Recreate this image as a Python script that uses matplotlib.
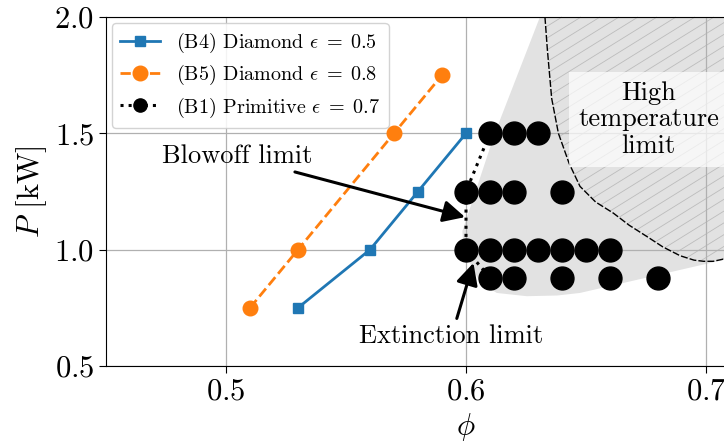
import matplotlib
matplotlib.use("Agg")
import matplotlib.pyplot as plt
import numpy as np
from matplotlib.collections import LineCollection

plt.rcParams.update({
    "font.family": "serif",
    "font.serif": ["cmr10", "DejaVu Serif"],
    "mathtext.fontset": "cm",
    "axes.formatter.use_mathtext": True,
    "axes.unicode_minus": False,
})

# Burner B4: diamond lattice, porosity 0.5
b4_phi = [0.53, 0.56, 0.58, 0.60]
b4_power = [0.75, 1.00, 1.25, 1.50]

# Burner B5: diamond lattice, porosity 0.8
b5_phi = [0.51, 0.53, 0.57, 0.59]
b5_power = [0.75, 1.00, 1.50, 1.75]

# Burner B1: primitive lattice, porosity 0.7 -- lean stability boundary
b1_phi = [0.61, 0.60, 0.60, 0.61]
b1_power = [1.50, 1.25, 1.00, 0.88]

# Burner B1: all stable operating points
stable_phi = [0.61, 0.62, 0.63,
              0.60, 0.61, 0.62, 0.64,
              0.60, 0.61, 0.62, 0.63, 0.64, 0.65, 0.66,
              0.61, 0.62, 0.64, 0.66, 0.68]
stable_power = [1.50, 1.50, 1.50,
                1.25, 1.25, 1.25, 1.25,
                1.00, 1.00, 1.00, 1.00, 1.00, 1.00, 1.00,
                0.88, 0.88, 0.88, 0.88, 0.88]

# Envelope of the stable operating region
env_phi = [0.6308, 0.6120, 0.5985, 0.5990, 0.6010, 0.6060, 0.6128, 0.6253,
           0.6380, 0.6475, 0.6989, 0.7600, 0.7600]
env_power = [2.00, 1.50, 1.08, 0.99, 0.955, 0.857, 0.814, 0.800,
             0.803, 0.814, 0.936, 1.080, 2.00]

# High-temperature limit curve
hot_phi = [0.6329, 0.6339, 0.6357, 0.6385, 0.6430, 0.6475, 0.6540, 0.6614,
           0.6680, 0.6753, 0.6820, 0.6892, 0.6950, 0.6990, 0.7030, 0.7075,
           0.7200, 0.7400]
hot_power = [2.00, 1.86, 1.65, 1.50, 1.37, 1.272, 1.205, 1.157,
             1.105, 1.057, 1.012, 0.974, 0.955, 0.950, 0.950, 0.960,
             0.990, 1.050]

x_ticks = [0.5, 0.6, 0.7]
y_ticks = [0.5, 1.0, 1.5, 2.0]

fig = plt.figure(figsize=(7.24, 4.46), dpi=100)
ax = fig.add_axes([106 / 724, 80 / 446, 720 / 724, 349 / 446])
ax.set_xlim(0.45, 0.75)
ax.set_ylim(0.5, 2.0)
ax.set_xticks(x_ticks)
ax.set_yticks(y_ticks)
ax.grid(True, color="#b0b0b0", linewidth=0.9)
ax.tick_params(labelsize=22, length=5)

# stable region
ax.fill(env_phi, env_power, color="#e2e2e2", linewidth=0, zorder=1)

# high-temperature region: outline plus a fine diagonal hatch
hot_poly_phi = hot_phi + [hot_phi[-1], hot_phi[0]]
hot_poly_power = hot_power + [2.2, 2.2]
hot_patch = ax.fill(hot_poly_phi, hot_poly_power, facecolor="none",
                    edgecolor="none", linewidth=0, zorder=1.1)[0]
bbox = ax.get_position()
fig_w, fig_h = fig.get_size_inches() * fig.dpi
ax_w, ax_h = bbox.width * fig_w, bbox.height * fig_h
slope = 0.62 * ax_w / ax_h          # hatch slope in axes units
step = 19.0 / ax_w                  # horizontal hatch spacing in axes units
starts = np.arange(-1.0 / slope, 1.0, step)
segs = [[(s, 0.0), (s + 1.0 / slope, 1.0)] for s in starts]
hatch = LineCollection(segs, transform=ax.transAxes, colors="#bcbcbc",
                       linewidths=0.6, zorder=1.1)
hatch.set_clip_path(hot_patch)
ax.add_collection(hatch, autolim=False)
ax.plot(hot_phi, hot_power, color="black", linestyle="--", linewidth=1.0,
        dashes=(5, 1.5), zorder=2)

ax.plot(b4_phi, b4_power, color="#1f77b4", marker="s", markersize=7,
        linewidth=2.0, label=r"(B4) Diamond $\epsilon\;=\;0.5$", zorder=3)
ax.plot(b5_phi, b5_power, color="#ff7f0e", marker="o", markersize=10.5,
        linewidth=2.0, linestyle="--", label=r"(B5) Diamond $\epsilon\;=\;0.8$",
        zorder=3)
ax.plot(b1_phi, b1_power, color="black", marker="o", markersize=9.5,
        linewidth=2.2, linestyle=":", label=r"(B1) Primitive $\epsilon\;=\;0.7$",
        zorder=3)
ax.plot(stable_phi, stable_power, linestyle="none", marker="o",
        markersize=16.5, color="black", zorder=4)

ax.text(0.676, 1.56, "High\ntemperature\nlimit", fontsize=19, ha="center",
        va="center", linespacing=1.15, zorder=5,
        bbox=dict(boxstyle="square,pad=0.35", facecolor="white",
                  edgecolor="none", alpha=0.7))

arrow = dict(arrowstyle="-|>", color="black", lw=2.2, mutation_scale=33,
             shrinkA=2, shrinkB=0)
ax.annotate("Blowoff limit", xy=(0.5996, 1.14), xytext=(0.5046, 1.40),
            fontsize=19, ha="center", va="center", arrowprops=arrow, zorder=6)
ax.annotate("Extinction limit", xy=(0.6031, 0.943), xytext=(0.594, 0.63),
            fontsize=19, ha="center", va="center", arrowprops=arrow, zorder=6)

ax.set_xlabel(r"$\phi$", fontsize=22)
ax.set_ylabel(r"$P$ [kW]", fontsize=22)

leg = ax.legend(loc="upper left", fontsize=14.5, borderaxespad=0.3,
                labelspacing=0.4, framealpha=0.85, edgecolor="#cccccc",
                fancybox=True)
leg.set_zorder(7)

fig.savefig("out.png", dpi=100)
